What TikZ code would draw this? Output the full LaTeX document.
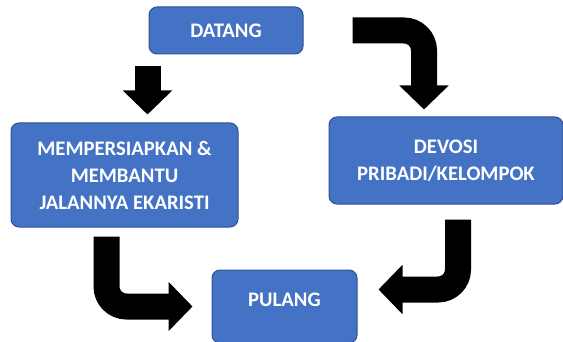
\documentclass[tikz,border=0pt]{standalone}
\usepackage{fontspec}
\setmainfont{Carlito}
\usepackage{xcolor}
\usepackage{tikz}
\usetikzlibrary{arrows.meta, positioning, calc}

\definecolor{boxblue}{HTML}{4472C4}
\definecolor{boxedge}{HTML}{2F528F}

\begin{document}
\begin{tikzpicture}[
    x=0.75pt, y=-0.75pt,
    stepbox/.style={draw=boxedge, fill=boxblue, rounded corners=6pt, line width=0.75pt,
                    text=white, font=\fontsize{15.5}{20.25}\selectfont\bfseries, align=center, inner sep=0pt},
    blockarr/.style={-{Triangle[width=36pt, length=18pt]}, line width=19.5pt, rounded corners=15pt},
]
\useasboundingbox (0,0) rectangle (563,342);

% === Steps ===
\node[stepbox, minimum width=115.5pt, minimum height=35.25pt] (datang) at (226,30.5) {DATANG};
\node[stepbox, minimum width=170.25pt, minimum height=78pt] (siap) at (124.5,175)
    {MEMPERSIAPKAN \&\\MEMBANTU\\JALANNYA EKARISTI};
\node[stepbox, minimum width=175.5pt, minimum height=65.25pt] (devosi) at (446,160.5)
    {DEVOSI\\PRIBADI/KELOMPOK};
\node[stepbox, minimum width=108.75pt, minimum height=54.75pt, text depth=10.5pt] (pulang) at (284.5,306.5) {PULANG};

% === Block arrows ===
\draw[blockarr] ([shift={(-1,12)}]datang.south west) -- ([shift={(-1,-8)}]datang.south west |- siap.north);
\draw[blockarr] ([shift={(49,0)}]datang.east) -| ([shift={(-22,-7)}]devosi.north);
\draw[blockarr] ([shift={(-18,9)}]siap.south) |- ([shift={(-19,0)}]pulang.west);
\draw[blockarr] ([shift={(12,15)}]devosi.south) |- ([shift={(21,-17)}]pulang.east);

\end{tikzpicture}
\end{document}
